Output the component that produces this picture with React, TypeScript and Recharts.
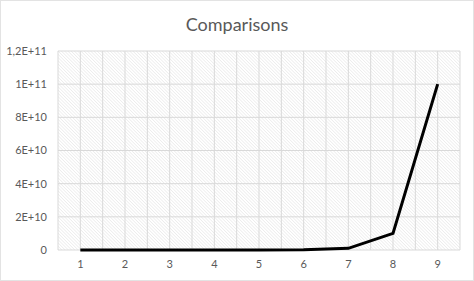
import React from "react";
import { LineChart, Line, XAxis, YAxis, CartesianGrid } from "recharts";

const categories = [1, 2, 3, 4, 5, 6, 7, 8, 9];
const comparisons = [1e3, 1e4, 1e5, 1e6, 1e7, 1e8, 1e9, 1e10, 1e11];
const yTicks = [0, 2e10, 4e10, 6e10, 8e10, 1e11, 1.2e11];
const yTickLabels = ["0", "2E+10", "4E+10", "6E+10", "8E+10", "1E+11", "1,2E+11"];
const gridXTicks = [0.5, 1, 1.5, 2, 2.5, 3, 3.5, 4, 4.5, 5, 5.5, 6, 6.5, 7, 7.5, 8, 8.5, 9, 9.5];

const data = categories.map((c, i) => ({ x: c, y: comparisons[i] }));

const FONT = "Lato, 'Liberation Sans', sans-serif";
const TEXT = "#595959";

export default function App() {
  return (
    <div
      style={{
        position: "absolute",
        left: 0,
        top: 0,
        width: 474,
        height: 281,
        boxSizing: "border-box",
        border: "1px solid #e3e3e3",
        background: "#fff",
        fontFamily: FONT,
      }}
    >
      <div
        style={{
          position: "absolute",
          left: 0,
          width: 472,
          top: 12,
          textAlign: "center",
          fontSize: 18,
          color: TEXT,
          fontFamily: FONT,
        }}
      >
        Comparisons
      </div>
      <div style={{ position: "absolute", left: -1, top: -1 }}>
        <LineChart
          width={474}
          height={281}
          data={data}
          margin={{ top: 51, right: 14, bottom: 0, left: 0 }}
        >
          <defs>
            <pattern
              id="hatch"
              width="2.3"
              height="4"
              patternUnits="userSpaceOnUse"
              patternTransform="rotate(-45)"
            >
              <rect width="2.3" height="4" fill="#ffffff" />
              <line x1="0" y1="0" x2="0" y2="4" stroke="#dcdcdc" strokeWidth="0.8" />
            </pattern>
          </defs>
          <CartesianGrid
            xAxisId="grid"
            stroke="#d9d9d9"
            fill="url(#hatch)"
            fillOpacity={1}
          />
          <XAxis
            xAxisId="grid"
            type="number"
            dataKey="x"
            domain={[0.5, 9.5]}
            ticks={gridXTicks}
            height={0}
            hide
          />
          <XAxis
            xAxisId="main"
            type="number"
            dataKey="x"
            domain={[0.5, 9.5]}
            ticks={categories}
            axisLine={false}
            tickLine={false}
            tickSize={0}
            tickMargin={10}
            height={31}
            tick={{ fill: TEXT, fontSize: 11, fontFamily: FONT }}
          />
          <YAxis
            domain={[0, 1.2e11]}
            ticks={yTicks}
            width={58}
            axisLine={false}
            tickLine={false}
            tickSize={0}
            tickMargin={11}
            tickFormatter={(v: number) => yTickLabels[yTicks.indexOf(v)] ?? String(v)}
            tick={{ fill: TEXT, fontSize: 11, fontFamily: FONT }}
          />
          <Line
            xAxisId="main"
            type="linear"
            dataKey="y"
            stroke="#000000"
            strokeWidth={3}
            dot={false}
            isAnimationActive={false}
          />
        </LineChart>
      </div>
    </div>
  );
}
